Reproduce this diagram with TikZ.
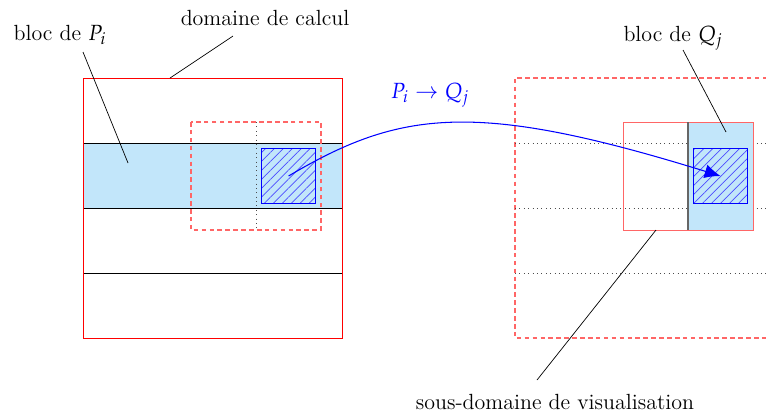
\documentclass[tikz,border=0pt]{standalone}
\usepackage{mathpazo}
\usetikzlibrary{patterns.meta,arrows.meta}
\definecolor{bandblue}{RGB}{194,230,250}
\tikzset{
  dombox/.style={draw=red, line width=0.5pt},
  dashbox/.style={draw=red!60, dash pattern=on 2.6pt off 1.9pt, line width=0.6pt},
  subbox/.style={draw=red!60, line width=0.8pt},
  band/.style={fill=bandblue, draw=none},
  hatch/.style={pattern={Lines[angle=45, distance=3.6pt, line width=0.4pt]}, pattern color=blue!70, draw=blue, line width=0.6pt},
  sep/.style={draw=black, line width=0.5pt},
  dotsep/.style={draw=black!70, dotted, line width=0.5pt},
  leader/.style={draw=black, line width=0.4pt},
  lbl/.style={font=\fontsize{12.5}{15}\selectfont, inner sep=1pt},
}
\begin{document}
\begin{tikzpicture}[x=0.02cm, y=-0.02cm]
\useasboundingbox (0,0) rectangle (766,414);
% ---- left: domaine de calcul
\fill[band] (83,143) rectangle (342,208);
\draw[sep] (83,143) -- (342,143);
\draw[sep] (83,208) -- (342,208);
\draw[sep] (83,273) -- (342,273);
\node[dombox, inner sep=0pt, minimum width=5.18cm, minimum height=5.2cm, anchor=north west] (dom) at (83,78) {};
\draw[dashbox] (191,122) rectangle (321,230);
\draw[dotsep] (256,122) -- (256,230);
\node[hatch, inner sep=0pt, minimum width=1.08cm, minimum height=1.1cm, anchor=north west] (hp) at (261,148) {};
% ---- right: visualisation
\draw[dashbox] (775,78) -- (515,78) -- (515,338) -- (775,338);
\draw[dotsep] (515,143) -- (766,143);
\draw[dotsep] (515,208) -- (766,208);
\draw[dotsep] (515,273) -- (766,273);
\fill[band] (688,122) rectangle (753,230);
\node[subbox, inner sep=0pt, minimum width=2.6cm, minimum height=2.16cm, anchor=north west] (sub) at (623,122) {};
\draw[draw=black!60, line width=0.6pt] (688,122) -- (688,230);
\node[hatch, inner sep=0pt, minimum width=1.08cm, minimum height=1.1cm, anchor=north west] (hq) at (693,148) {};
% ---- labels
\node[lbl] (lp) at (60,35) {bloc de $P_i$};
\node[lbl] (ld) at (265,18) {domaine de calcul};
\node[lbl] (lq) at (673,38) {bloc de $Q_j$};
\node[lbl] (lv) at (555,402) {sous-domaine de visualisation};
\node[lbl, text=blue] (arr) at (430,95) {$P_i \rightarrow Q_j$};
% ---- leaders
\coordinate (ep) at (128,163);
\coordinate (ed) at (170,78);
\coordinate (eq) at (726,132);
\coordinate (ev) at (656,230);
\draw[leader] (83,52) -- (ep);
\draw[leader] (233,36) -- (ed);
\draw[leader] (683,50) -- (eq);
\draw[leader] (537,380) -- (ev);
% ---- communication arrow
\draw[blue, line width=0.6pt, -{Latex[length=9pt, width=8pt]}] (hp.center) .. controls (400,110) and (475,100) .. (hq.center);
\end{tikzpicture}
\end{document}
